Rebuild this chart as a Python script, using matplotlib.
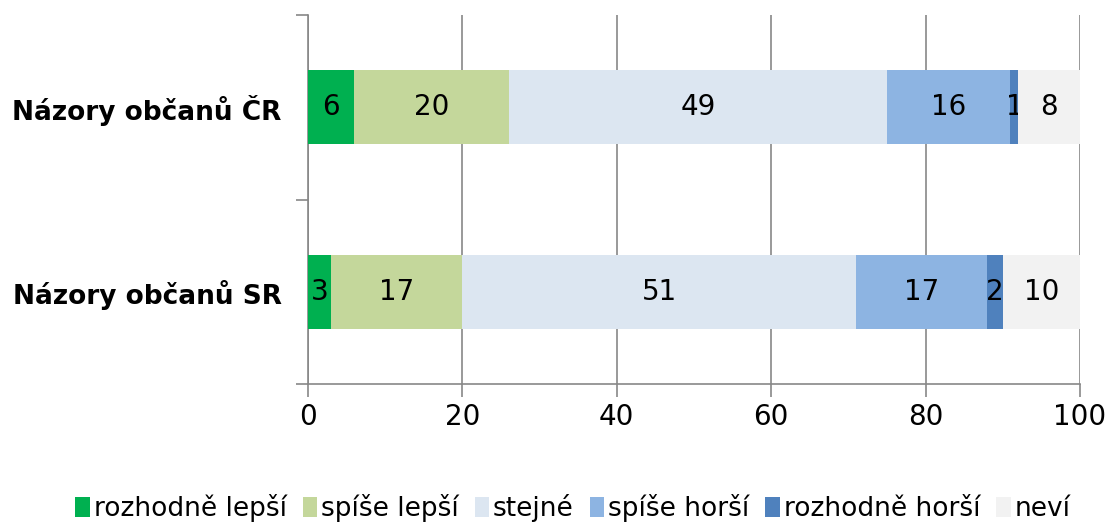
import matplotlib
matplotlib.use("Agg")
import matplotlib.pyplot as plt
import numpy as np

categories = ["Názory občanů SR", "Názory občanů ČR"]
series_names = ["rozhodně lepší", "spíše lepší", "stejné", "spíše horší", "rozhodně horší", "neví"]
values_sr = [3, 17, 51, 17, 2, 10]
values_cr = [6, 20, 49, 16, 1, 8]
colors = ["#00B050", "#C4D79B", "#DCE6F1", "#8DB4E2", "#4F81BD", "#F2F2F2"]
x_ticks = [0, 20, 40, 60, 80, 100]

plt.rcParams["font.family"] = ["DejaVu Sans"]

fig = plt.figure(figsize=(11.08, 5.27), dpi=100)
ax = fig.add_axes([0.278, 0.2713, 0.6967, 0.7002])

data = np.array([values_sr, values_cr])
ypos = np.arange(len(categories))
left = np.zeros(len(categories))
for i, name in enumerate(series_names):
    bars = ax.barh(ypos, data[:, i], left=left, height=0.4, color=colors[i],
                   label=name, zorder=3)
    ax.bar_label(bars, labels=[str(v) for v in data[:, i]], label_type="center",
                 fontsize=20, color="black")
    left += data[:, i]

ax.set_xlim(0, 100)
ax.set_ylim(-0.5, 1.5)
ax.set_xticks(x_ticks)
ax.set_xticklabels([str(t) for t in x_ticks], fontsize=20)
ax.set_yticks(ypos)
ax.set_yticklabels(categories, fontsize=19, fontweight="bold")
ax.set_yticks([-0.5, 0.5, 1.5], minor=True)
ax.tick_params(axis="y", which="major", length=0, pad=19)
ax.tick_params(axis="y", which="minor", length=9, color="#878787", width=1.2)
ax.tick_params(axis="x", length=9, color="#878787", width=1.2, pad=5)
ax.grid(axis="x", color="#878787", linewidth=1.2, zorder=0)
for s in ["top", "right"]:
    ax.spines[s].set_visible(False)
for s in ["left", "bottom"]:
    ax.spines[s].set_color("#878787")
    ax.spines[s].set_linewidth(1.2)

fig.legend(loc="lower center", bbox_to_anchor=(0.517, -0.036), ncol=6, frameon=False,
           fontsize=19, handlelength=0.55, handleheight=0.8, handletextpad=0.15,
           columnspacing=0.6)

fig.savefig("out.png", dpi=100)
